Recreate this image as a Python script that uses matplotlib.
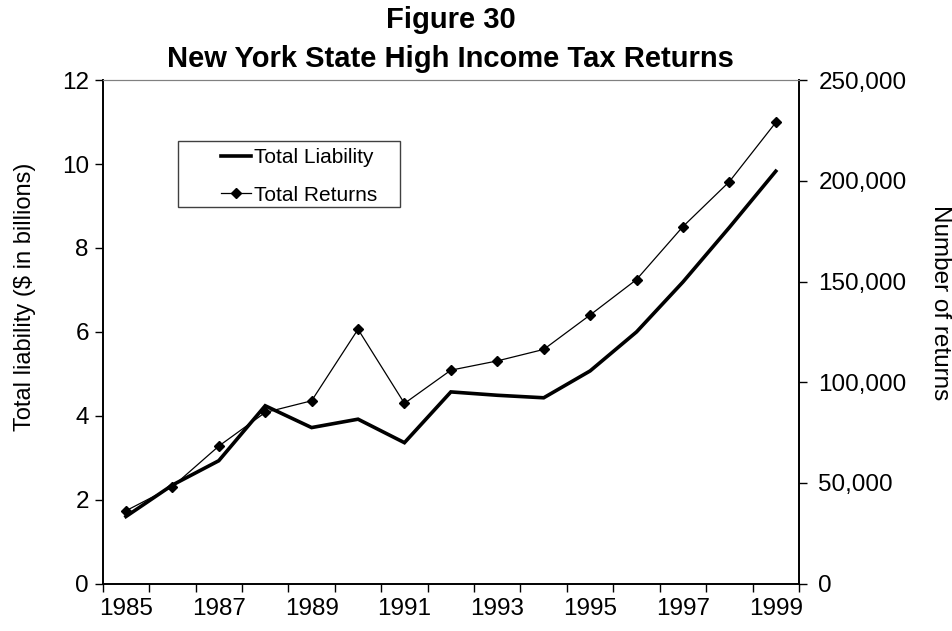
#!/usr/bin/env python
# coding=utf-8
"""
Plot of New York State high income tax returns: total liability (left axis)
and number of returns (right axis), 1985-1999
"""

import numpy as np
import matplotlib
matplotlib.use('Agg')
import matplotlib.pyplot as plt
from matplotlib.patches import Rectangle
from matplotlib.ticker import FuncFormatter

plt.rcParams['font.family'] = ['Liberation Sans', 'DejaVu Sans']

years = [1985, 1986, 1987, 1988, 1989, 1990, 1991, 1992, 1993, 1994,
         1995, 1996, 1997, 1998, 1999]

#  Total liability in billions of dollars
total_liability = [1.60, 2.35, 2.93, 4.24, 3.72, 3.92, 3.36, 4.57, 4.49,
                   4.43, 5.07, 6.00, 7.19, 8.49, 9.83]

#  Number of returns
total_returns = [36200, 48100, 68300, 85000, 90800, 126300, 89500, 106000,
                 110600, 116300, 133400, 151000, 177300, 199600, 229000]

year_labels = ['1985', '1987', '1989', '1991', '1993', '1995', '1997',
               '1999']


if __name__ == '__main__':

    fig = plt.figure(figsize=(9.53, 6.31), dpi=100)
    ax1 = fig.add_axes([0.1078, 0.075, 0.7306, 0.798])
    ax2 = ax1.twinx()

    #  Category axis: points sit in the middle of each year slot
    x_pos = np.arange(len(years)) + 0.5

    l1, = ax1.plot(x_pos, total_liability, color='black', lw=2.6,
                   solid_joinstyle='miter', label='Total Liability')
    l2, = ax2.plot(x_pos, total_returns, color='black', lw=0.9,
                   marker='D', markersize=5, label='Total Returns')

    ax1.set_xlim(0, len(years))
    ax1.set_ylim(0, 12)
    ax2.set_ylim(0, 250000)

    ax1.set_xticks(np.arange(len(years) + 1))
    ax1.set_xticklabels([])
    ax1.set_xticks(x_pos[::2], minor=True)
    ax1.set_xticklabels(year_labels, minor=True)
    ax1.tick_params(axis='x', which='minor', length=0, pad=10)
    ax1.tick_params(axis='x', which='major', length=6, width=1)

    ax1.set_yticks(np.arange(0, 13, 2))
    ax2.set_yticks(np.arange(0, 250001, 50000))
    ax2.yaxis.set_major_formatter(
        FuncFormatter(lambda v, p: '{:,.0f}'.format(v)))

    for ax in (ax1, ax2):
        ax.tick_params(which='both', labelsize=17.5, direction='out',
                       colors='black')
        ax.spines['top'].set_color('#808080')
        for side in ('left', 'right', 'bottom'):
            ax.spines[side].set_linewidth(1.2)
    ax1.tick_params(axis='y', length=6, width=1, pad=4)
    ax2.tick_params(axis='y', length=6, width=1, pad=8)

    fig.text(0.026, 0.529, 'Total liability ($ in billions)', rotation=90,
             ha='center', va='center', fontsize=17)
    fig.text(0.986, 0.521, 'Number of returns', rotation=270,
             ha='center', va='center', fontsize=17.5)

    fig.text(0.473, 0.968, 'Figure 30', ha='center', va='center',
             fontsize=21, fontweight='bold')
    fig.text(0.473, 0.906, 'New York State High Income Tax Returns',
             ha='center', va='center', fontsize=21, fontweight='bold')

    #  Legend box drawn separately so the keys can sit well inside it
    fig.patches.append(Rectangle((178 / 953, 1 - 207 / 631), 222 / 953,
                                 66 / 631, transform=fig.transFigure,
                                 facecolor='white', edgecolor='#404040',
                                 lw=1.0, zorder=4))
    leg = fig.legend(handles=[l1, l2], loc='upper left',
                     bbox_to_anchor=(221 / 953, 1 - 148 / 631),
                     fontsize=15, frameon=False, handlelength=1.45,
                     handletextpad=0.15, borderpad=0, labelspacing=0.9,
                     borderaxespad=0)
    leg.set_zorder(5)

    plt.savefig('out.png', dpi=100)
    plt.close()
